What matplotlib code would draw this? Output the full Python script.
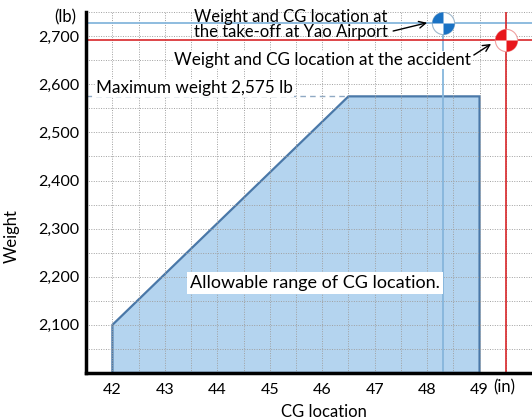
import matplotlib
matplotlib.use('Agg')
import matplotlib.pyplot as plt
from matplotlib.path import Path
from matplotlib.ticker import MultipleLocator

plt.rcParams['font.family'] = ['Lato', 'DejaVu Sans']

# allowable CG envelope (in, lb)
env_cg = [42.0, 42.0, 46.5, 49.0, 49.0]
env_wt = [2000, 2100, 2575, 2575, 2000]
max_weight = 2575

takeoff_cg = 48.3
takeoff_wt = 2728
accident_cg = 49.5
accident_wt = 2693

x_ticks = [42, 43, 44, 45, 46, 47, 48, 49]
y_ticks = [2100, 2200, 2300, 2400, 2500, 2600, 2700]
y_labels = ['2,100', '2,200', '2,300', '2,400', '2,500', '2,600', '2,700']

fig = plt.figure(figsize=(5.32, 4.2), dpi=100)
ax = fig.add_axes([0.162, 0.112, 0.838, 0.859])
ax.set_xlim(41.5, 50.0)
ax.set_ylim(2000, 2750)

ax.fill(env_cg, env_wt, facecolor='#b4d4ef', edgecolor='#4a78a8', lw=1.6, zorder=1)

ax.xaxis.set_minor_locator(MultipleLocator(0.5))
ax.yaxis.set_minor_locator(MultipleLocator(50))
ax.set_axisbelow(False)
ax.grid(True, which='both', color='#a0a0a0', linestyle=(0, (1, 1.5)), lw=0.7, zorder=1.5)

# max weight dashed line
ax.plot([41.5, 46.5], [max_weight, max_weight], color='#8fa9c4', lw=1, ls=(0, (4, 3)), zorder=2)

# take-off / accident lines
ax.axhline(takeoff_wt, color='#86b6dc', lw=1.3, zorder=3)
ax.axvline(takeoff_cg, color='#86b6dc', lw=1.3, zorder=3)
ax.axhline(accident_wt, color='#d8262a', lw=1.2, zorder=3)
ax.axvline(accident_cg, color='#d8262a', lw=1.2, zorder=3)

# CG symbol markers
quarters = Path.make_compound_path(Path.wedge(90, 180), Path.wedge(270, 360))
for cx, cy, col, ec in [(takeoff_cg, takeoff_wt, '#1a72c4', '#9fb8cc'),
                        (accident_cg, accident_wt, '#e8161b', '#f0a0a0')]:
    ax.plot(cx, cy, marker='o', ms=16, mfc='white', mec=ec, mew=0.8, zorder=5)
    ax.plot(cx, cy, marker=quarters, ms=16, mfc=col, mec='none', zorder=6)

ax.set_xticks(x_ticks)
ax.set_yticks(y_ticks)
ax.set_yticklabels(y_labels)
ax.tick_params(which='both', length=0, labelsize=11.5)
ax.tick_params(axis='x', pad=7)
ax.tick_params(axis='y', pad=5)

for s in ['top', 'right']:
    ax.spines[s].set_visible(False)
for s in ['left', 'bottom']:
    ax.spines[s].set_linewidth(2.5)
    ax.spines[s].set_zorder(7)

ax.set_xlabel('CG location', fontsize=12)
ax.xaxis.set_label_coords(0.534, -0.085)
ax.set_ylabel('Weight', fontsize=12)
ax.yaxis.set_label_coords(-0.148, 0.38)

ax.text(-0.022, 0.985, '(lb)', transform=ax.transAxes, ha='right', va='center', fontsize=12)
ax.text(0.937, -0.039, '(in)', transform=ax.transAxes, ha='center', va='center', fontsize=12)

ax.annotate('Weight and CG location at\nthe take-off at Yao Airport',
            xy=(48.0, 2728), xytext=(45.4, 2724), ha='center', va='center',
            fontsize=12, linespacing=0.9, zorder=4,
            arrowprops=dict(arrowstyle='->', color='black', lw=1,
                            shrinkA=2, shrinkB=0, relpos=(1.0, 0.25)))
ax.annotate('Weight and CG location at the accident',
            xy=(49.22, 2684), xytext=(46.0, 2650), ha='center', va='center',
            fontsize=12.3, zorder=4,
            bbox=dict(boxstyle='square,pad=0.05', fc='white', ec='none'),
            arrowprops=dict(arrowstyle='->', color='black', lw=1,
                            shrinkA=2, shrinkB=0, relpos=(1.0, 0.7)))
ax.text(43.56, 2592, 'Maximum weight 2,575 lb', ha='center', va='center', fontsize=12.3,
        bbox=dict(boxstyle='square,pad=0.05', fc='white', ec='none'), zorder=4)
ax.text(45.86, 2187, 'Allowable range of CG location.', ha='center', va='center', fontsize=13,
        bbox=dict(boxstyle='square,pad=0.15', fc='white', ec='none'), zorder=4)

fig.savefig('out.png', dpi=100)
